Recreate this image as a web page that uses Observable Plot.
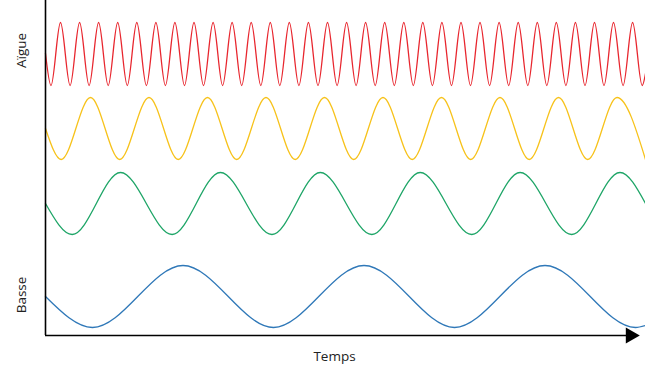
<!DOCTYPE html>
<html>
<head>
<meta charset="utf-8">
<script src="https://cdn.jsdelivr.net/npm/d3@7"></script>
<script src="https://cdn.jsdelivr.net/npm/@observablehq/plot@0.6"></script>
<style>
  html, body { margin: 0; padding: 0; background: #fff; }
  #chart svg { display: block; }
</style>
</head>
<body>
<div id="chart"></div>
<script>
// Wave series (time in px-like units from the vertical axis; level = height above time axis)
const waveKeys = ["aigue", "medium-aigue", "medium-basse", "basse"];
const waveColors = ["#e8262e", "#f7c21a", "#1ea567", "#2f78b8"];
const crestLevels = [313, 238, 163, 70];
const troughLevels = [250, 176, 101, 8];
const startLevels = [282, 207, 132, 39];
const endLevels = [262, 176, 132, 10];

const redCrests = [15, 34.1, 53.1, 72.2, 91.3, 110.4, 129.4, 148.5, 167.6, 186.6, 205.7, 224.8, 243.8, 262.9, 282, 301.1, 320.1, 339.2, 358.3, 377.3, 396.4, 415.5, 434.5, 453.6, 472.7, 491.8, 510.8, 529.9, 549, 568, 587.1];
const redTroughs = [5.5, 24.6, 43.6, 62.7, 81.8, 100.9, 119.9, 139, 158, 177.1, 196.2, 215.3, 234.3, 253.4, 272.5, 291.6, 310.6, 329.7, 348.8, 367.8, 386.9, 406, 425, 444.1, 463.2, 482.3, 501.3, 520.4, 539.5, 558.5, 577.6, 596.7];
const yellowCrests = [45, 103.5, 162, 220.5, 279, 337.5, 396, 454.5, 513, 571.5];
const yellowTroughs = [15.7, 74.2, 132.7, 191.2, 249.7, 308.2, 366.7, 425.2, 483.7, 542.2];
const greenCrests = [75, 174.9, 274.8, 374.7, 474.6, 574.5];
const greenTroughs = [26.7, 126.6, 226.5, 326.4, 426.3, 526.2];
const blueCrests = [137.5, 318.5, 499.5];
const blueTroughs = [47, 228, 409, 590];

const axisLabels = ["Aïgue", "Basse"];
const axisLabelLevels = [285, 40.5];
const xLabel = "Temps";

const timeStart = 0, timeEnd = 600, arrowAt = 585;

function wavePoints(i, crests, troughs) {
  const key = waveKeys[i];
  const pts = [{wave: key, t: timeStart, v: startLevels[i]}];
  crests.forEach(t => pts.push({wave: key, t, v: crestLevels[i]}));
  troughs.forEach(t => pts.push({wave: key, t, v: troughLevels[i]}));
  pts.push({wave: key, t: timeEnd, v: endLevels[i]});
  return pts.sort((a, b) => a.t - b.t);
}

const points = [
  ...wavePoints(0, redCrests, redTroughs),
  ...wavePoints(1, yellowCrests, yellowTroughs),
  ...wavePoints(2, greenCrests, greenTroughs),
  ...wavePoints(3, blueCrests, blueTroughs)
];

const labels = axisLabels.map((text, i) => ({text, v: axisLabelLevels[i]}));

const chart = Plot.plot({
  width: 645,
  height: 368,
  marginLeft: 45,
  marginRight: 0,
  marginTop: 0,
  marginBottom: 33,
  style: {fontFamily: "'Open Sans', sans-serif", background: "#fff", overflow: "visible"},
  x: {domain: [timeStart, timeEnd], axis: null},
  y: {domain: [0, 335], axis: null},
  color: {domain: waveKeys, range: waveColors},
  marks: [
    Plot.line(points, {x: "t", y: "v", z: "wave", stroke: "wave", curve: "monotone-x", strokeWidth: 1.3}),
    Plot.ruleX([timeStart], {stroke: "#000", strokeWidth: 1.6}),
    Plot.ruleY([0], {x1: timeStart, x2: arrowAt, stroke: "#000", strokeWidth: 1.6}),
    Plot.dot([arrowAt], {x: d => d, y: 0, symbol: "triangle", rotate: 90, r: 6, fill: "#000", stroke: null}),
    Plot.text(labels, {y: "v", text: "text", frameAnchor: "left", rotate: -90, dx: -24, textAnchor: "middle", lineAnchor: "middle", fontSize: 13.5, fill: "#222"}),
    Plot.text([xLabel], {frameAnchor: "bottom", dx: -11, dy: 21, lineAnchor: "middle", fontSize: 13.5, fill: "#222"})
  ]
});
document.getElementById("chart").appendChild(chart);
</script>
</body>
</html>
